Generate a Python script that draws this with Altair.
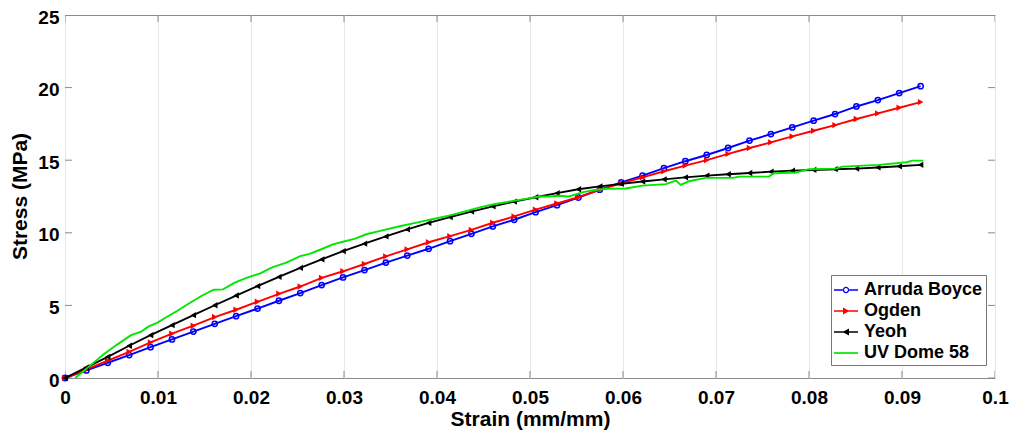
import altair as alt
import pandas as pd

# ---------------- data ----------------
strain = [0.0, 0.0023, 0.0046, 0.0069, 0.0092, 0.0115, 0.0138, 0.0161, 0.0184, 0.0207,
          0.0230, 0.0253, 0.0276, 0.0299, 0.0322, 0.0345, 0.0368, 0.0391, 0.0414, 0.0437,
          0.0460, 0.0483, 0.0506, 0.0529, 0.0552, 0.0575, 0.0598, 0.0621, 0.0644, 0.0667,
          0.0690, 0.0713, 0.0736, 0.0759, 0.0782, 0.0805, 0.0828, 0.0851, 0.0874, 0.0897, 0.0920]

arruda_boyce = [0.0, 0.52, 1.05, 1.58, 2.12, 2.66, 3.2, 3.73, 4.26, 4.78,
                5.32, 5.85, 6.4, 6.93, 7.43, 7.95, 8.43, 8.9, 9.42, 9.93,
                10.44, 10.9, 11.42, 11.9, 12.43, 12.97, 13.47, 13.94, 14.45, 14.93,
                15.36, 15.84, 16.35, 16.8, 17.26, 17.72, 18.18, 18.7, 19.14, 19.62, 20.1]

ogden = [0.0, 0.6, 1.2, 1.8, 2.45, 3.05, 3.6, 4.2, 4.7, 5.25,
         5.8, 6.3, 6.9, 7.35, 7.85, 8.38, 8.86, 9.35, 9.77, 10.2,
         10.69, 11.13, 11.6, 12.02, 12.45, 12.96, 13.4, 13.82, 14.24, 14.63,
         15.0, 15.43, 15.84, 16.23, 16.64, 17.03, 17.42, 17.84, 18.22, 18.61, 19.0]

yeoh = [0.0, 0.73, 1.46, 2.22, 2.95, 3.64, 4.33, 5.01, 5.68, 6.33,
        6.96, 7.58, 8.17, 8.74, 9.25, 9.75, 10.23, 10.68, 11.08, 11.46,
        11.82, 12.15, 12.45, 12.73, 13.0, 13.2, 13.37, 13.53, 13.68, 13.82,
        13.94, 14.03, 14.12, 14.21, 14.28, 14.33, 14.38, 14.42, 14.5, 14.58, 14.68]

uv_strain = [0.0011, 0.0025, 0.0042, 0.0056, 0.0071, 0.0082, 0.0090, 0.0099, 0.0108, 0.0120,
             0.0135, 0.0148, 0.0160, 0.0170, 0.0182, 0.0195, 0.0210, 0.0222, 0.0238, 0.0253,
             0.0263, 0.0275, 0.0288, 0.0300, 0.0312, 0.0324, 0.0340, 0.0360, 0.0378, 0.0396,
             0.0414, 0.0432, 0.0446, 0.0460, 0.0482, 0.0497, 0.0510, 0.0521, 0.0530, 0.0542,
             0.0557, 0.0570, 0.0582, 0.0603, 0.0621, 0.0646, 0.0657, 0.0662, 0.0671, 0.0689,
             0.0718, 0.0725, 0.0757, 0.0762, 0.0786, 0.0800, 0.0829, 0.0836, 0.0875, 0.0905,
             0.0911, 0.0923]
uv_stress = [0.0, 0.75, 1.65, 2.3, 2.95, 3.2, 3.55, 3.8, 4.15, 4.6,
             5.2, 5.7, 6.08, 6.1, 6.55, 6.9, 7.2, 7.6, 7.95, 8.4,
             8.55, 8.85, 9.2, 9.4, 9.6, 9.9, 10.15, 10.45, 10.7, 10.95,
             11.2, 11.5, 11.75, 11.95, 12.2, 12.35, 12.5, 12.5, 12.55, 12.5,
             12.8, 12.95, 13.03, 13.05, 13.25, 13.35, 13.6, 13.3, 13.55, 13.78,
             13.78, 13.87, 13.87, 14.1, 14.15, 14.38, 14.42, 14.56, 14.68, 14.86,
             14.97, 14.97]

series_names = ["Arruda Boyce", "Ogden", "Yeoh", "UV Dome 58"]
series_colors = ["#0000ff", "#ff0000", "#000000", "#00e600"]

x_ticks = [0.0, 0.01, 0.02, 0.03, 0.04, 0.05, 0.06, 0.07, 0.08, 0.09, 0.1]
y_ticks = [0, 5, 10, 15, 20, 25]

# legend symbols: line + marker drawn as filled paths
legend_paths = [
    "M-1,-0.07H-0.27V0.07H-1Z M0.27,-0.07H1V0.07H0.27Z "
    "M-0.27,0A0.27,0.27 0 1,0 0.27,0A0.27,0.27 0 1,0 -0.27,0Z "
    "M-0.16,0A0.16,0.16 0 1,1 0.16,0A0.16,0.16 0 1,1 -0.16,0Z",
    "M-1,-0.07H1V0.07H-1Z M-0.25,-0.3L0.3,0L-0.25,0.3Z",
    "M-1,-0.07H1V0.07H-1Z M0.25,0.3L-0.3,0L0.25,-0.3Z",
    "M-1,-0.07H1V0.07H-1Z",
]

FONT = "Liberation Sans"
FRAME = "#8a8a8a"

xs = alt.Scale(domain=[0, 0.1], nice=False, zero=False)
ys = alt.Scale(domain=[0, 25], nice=False, zero=False)

xaxis = alt.Axis(values=x_ticks, format="~g", title="Strain (mm/mm)", ticks=False, domain=False,
                 labelPadding=10, labelFlush=False, labelOverlap=False,
                 titleY=47, titleBaseline="alphabetic")
yaxis = alt.Axis(values=y_ticks, title="Stress (MPa)", ticks=False, domain=False,
                 labelPadding=6, labelFlush=False, labelOverlap=False, labelOffset=2,
                 titleX=-39, titleY=181, titleBaseline="alphabetic", titleAngle=270,
                 titleAlign="center")


def xenc(field):
    return alt.X(field, type="quantitative", scale=xs, axis=xaxis)


def yenc(field):
    return alt.Y(field, type="quantitative", scale=ys, axis=yaxis)


layers = []

# tick marks drawn inward (clipped halves)
xt = pd.DataFrame({"t": x_ticks})
yt = pd.DataFrame({"t": y_ticks})
for yv in [0, 25]:
    layers.append(alt.Chart(xt).mark_tick(orient="vertical", size=14, thickness=1, color=FRAME, clip=True, opacity=1)
                  .encode(x=xenc("t"), y=alt.datum(yv, scale=ys)))
for xv in [0, 0.1]:
    layers.append(alt.Chart(yt).mark_tick(orient="horizontal", size=14, thickness=1, color=FRAME, clip=True, opacity=1)
                  .encode(y=yenc("t"), x=alt.datum(xv, scale=xs)))

model_specs = [
    (arruda_boyce, series_colors[0], "circle", False),
    (ogden, series_colors[1], "triangle-right", True),
    (yeoh, series_colors[2], "triangle-left", True),
]
for vals, col, shp, fill in model_specs:
    df = pd.DataFrame({"strain": strain, "stress": vals})
    base = alt.Chart(df).encode(x=xenc("strain"), y=yenc("stress"))
    layers.append(base.mark_line(color=col, strokeWidth=1.9))
    layers.append(base.mark_point(shape=shp, filled=fill, color=col, size=40 if fill else 28,
                                  strokeWidth=1.5, opacity=1))

uv = pd.DataFrame({"strain": uv_strain, "stress": uv_stress})
layers.append(alt.Chart(uv).mark_line(color=series_colors[3], strokeWidth=1.9)
              .encode(x=xenc("strain"), y=yenc("stress")))

# legend-only layer (point placed outside the clipped view)
leg = pd.DataFrame({"series": series_names})
layers.append(
    alt.Chart(leg).mark_point(filled=True, opacity=1, clip=True, size=576)
    .encode(
        x=alt.datum(0.05, scale=xs),
        y=alt.datum(-50, scale=ys),
        color=alt.Color("series:N", scale=alt.Scale(domain=series_names, range=series_colors),
                        sort=series_names, title=None),
        shape=alt.Shape("series:N", scale=alt.Scale(domain=series_names, range=legend_paths),
                        sort=series_names, title=None),
    )
)

chart = (
    alt.layer(*layers)
    .properties(width=930, height=363, background="white",
                autosize=alt.AutoSizeParams(type="none"),
                padding={"left": 57, "top": 7, "right": 14, "bottom": 60})
    .configure_view(stroke=FRAME, strokeWidth=1)
    .configure_axis(labelFont=FONT, labelFontSize=19, labelFontWeight="bold", labelColor="#000",
                    titleFont=FONT, titleFontSize=21, titleFontWeight="bold", titleColor="#000",
                    gridColor="#e6e6e6", gridWidth=1)
    .configure_legend(orient="none", legendX=766, legendY=260, padding=3,
                      strokeColor="#777777", fillColor="#ffffff",
                      labelFont=FONT, labelFontSize=18, labelFontWeight="bold", labelColor="#000",
                      symbolSize=576, labelOffset=6, rowPadding=-1, labelLimit=300,
                      symbolStrokeWidth=0)
)

chart.save("out.html", embed_options={"renderer": "svg", "actions": False})
